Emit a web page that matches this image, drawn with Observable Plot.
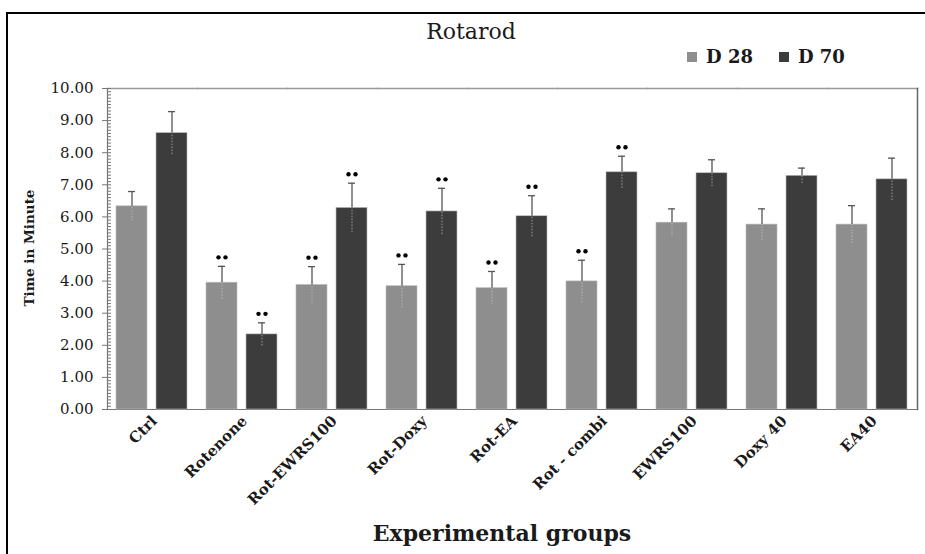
<!DOCTYPE html>
<html>
<head>
<meta charset="utf-8">
<script src="https://cdn.jsdelivr.net/npm/d3@7"></script>
<script src="https://cdn.jsdelivr.net/npm/@observablehq/plot@0.6"></script>
<style>
  html, body { margin: 0; padding: 0; background: #fff; overflow: hidden; }
  body { width: 925px; height: 554px; position: relative; font-family: "DejaVu Serif", serif; }
  #border { position: absolute; left: 6px; top: 12px; width: 940px; height: 600px; border: 2.5px solid #000; box-sizing: content-box; }
  #title { position: absolute; left: 471px; top: 32px; transform: translate(-50%, -50%); font-size: 22px; color: #1a1a1a; white-space: nowrap; line-height: 1; }
  #legend { position: absolute; left: 687px; top: 57px; transform: translateY(-50%); font-size: 18px; font-weight: bold; color: #1a1a1a; white-space: nowrap; display: flex; align-items: center; line-height: 1; }
  #legend span.item { display: flex; align-items: center; margin-right: 26px; }
  #legend span.sw { display: inline-block; width: 10px; height: 10px; margin-right: 9px; }
  #ylabel { position: absolute; left: 30px; top: 248px; transform: translate(-50%, -50%) rotate(-90deg); font-size: 13.5px; font-weight: bold; white-space: nowrap; color: #1a1a1a; line-height: 1; }
  #xlabel { position: absolute; left: 502px; top: 533px; transform: translate(-50%, -50%); font-size: 22px; font-weight: bold; white-space: nowrap; color: #1a1a1a; line-height: 1; }
  #chart { position: absolute; left: 0; top: 70px; }
</style>
</head>
<body>
<div id="border"></div>
<div id="title">Rotarod</div>
<div id="legend"></div>
<div id="ylabel">Time in Minute</div>
<div id="xlabel">Experimental groups</div>
<div id="chart"></div>
<script>
const groups = ["Ctrl", "Rotenone", "Rot-EWRS100", "Rot-Doxy", "Rot-EA", "Rot - combi", "EWRS100", "Doxy 40", "EA40"];
const seriesNames = ["D 28", "D 70"];
const d28 = [6.33, 3.95, 3.88, 3.84, 3.78, 3.99, 5.82, 5.76, 5.76];
const d28Err = [0.46, 0.51, 0.57, 0.68, 0.52, 0.66, 0.43, 0.49, 0.59];
const d70 = [8.61, 2.34, 6.28, 6.17, 6.02, 7.39, 7.36, 7.28, 7.17];
const d70Err = [0.67, 0.36, 0.77, 0.72, 0.64, 0.50, 0.42, 0.24, 0.66];
const sig28 = [false, true, true, true, true, true, false, false, false];
const sig70 = [false, true, true, true, true, true, false, false, false];
const yTicks = [0, 1, 2, 3, 4, 5, 6, 7, 8, 9, 10];
const colors = ["#8e8e8e", "#3c3c3c"];

const data = [];
groups.forEach((g, i) => {
  data.push({group: g, series: seriesNames[0], value: d28[i], err: d28Err[i], sig: sig28[i]});
  data.push({group: g, series: seriesNames[1], value: d70[i], err: d70Err[i], sig: sig70[i]});
});
const sigData = data.filter(d => d.sig);
const minorTicks = d3.range(0, 100.5, 1).map(v => v / 10);

// legend
const legend = document.getElementById("legend");
seriesNames.forEach((s, i) => {
  const item = document.createElement("span");
  item.className = "item";
  const sw = document.createElement("span");
  sw.className = "sw";
  sw.style.background = colors[i];
  item.appendChild(sw);
  item.appendChild(document.createTextNode(s));
  legend.appendChild(item);
});

const chart = Plot.plot({
  width: 925,
  height: 484,
  marginTop: 18,
  marginBottom: 145,
  marginLeft: 103,
  marginRight: 4,
  style: {fontFamily: "DejaVu Serif, serif", color: "#1a1a1a", background: "transparent"},
  fx: {domain: groups, padding: 0, label: null},
  x: {domain: seriesNames, paddingInner: 0.22, paddingOuter: 0.22, axis: null},
  y: {domain: [0, 10], label: null},
  color: {domain: seriesNames, range: colors},
  marks: [
    Plot.frame({anchor: "top", stroke: "#999", strokeWidth: 1.5}),
    Plot.frame({anchor: "bottom", stroke: "#777", strokeWidth: 1.2}),
    Plot.frame({anchor: "left", facetAnchor: "left", stroke: "#777", strokeWidth: 1.2}),
    Plot.frame({anchor: "right", facetAnchor: "right", stroke: "#666", strokeWidth: 1.5}),
    Plot.barY(data, {fx: "group", x: "series", y: "value", fill: "series", stroke: "#bbb", strokeWidth: 0.6}),
    // lower half of error bars (faint, inside the bar)
    Plot.ruleX(data, {fx: "group", x: "series", y1: d => d.value - d.err, y2: "value", stroke: "#c8c8c8", strokeWidth: 1, strokeDasharray: "1.5,1.5", strokeOpacity: 0.7}),
    // upper half of error bars
    Plot.ruleX(data, {fx: "group", x: "series", y1: "value", y2: d => d.value + d.err, stroke: "#555", strokeWidth: 1.3}),
    Plot.tickY(data, {fx: "group", x: "series", y: d => d.value + d.err, stroke: "#555", strokeWidth: 1.3, insetLeft: 12, insetRight: 12}),
    // significance markers
    Plot.dot(sigData, {fx: "group", x: "series", y: d => d.value + d.err, dx: -3.5, dy: -9, r: 2.2, fill: "#000", stroke: "none"}),
    Plot.dot(sigData, {fx: "group", x: "series", y: d => d.value + d.err, dx: 3.5, dy: -9, r: 2.2, fill: "#000", stroke: "none"}),
    // axes
    Plot.axisY({ticks: minorTicks, tickSize: -4, text: null, label: null, stroke: "#777"}),
    Plot.axisY({ticks: yTicks, tickSize: 5, tickPadding: 9, tickFormat: d => d.toFixed(2), fontSize: 15, label: null, stroke: "#777"}),
    Plot.axisFx({anchor: "bottom", tickSize: 0, tickRotate: -45, tickPadding: 9, fontSize: 15, fontWeight: "bold", label: null, textAnchor: "end", dx: 2})
  ]
});
document.getElementById("chart").appendChild(chart);
</script>
</body>
</html>
